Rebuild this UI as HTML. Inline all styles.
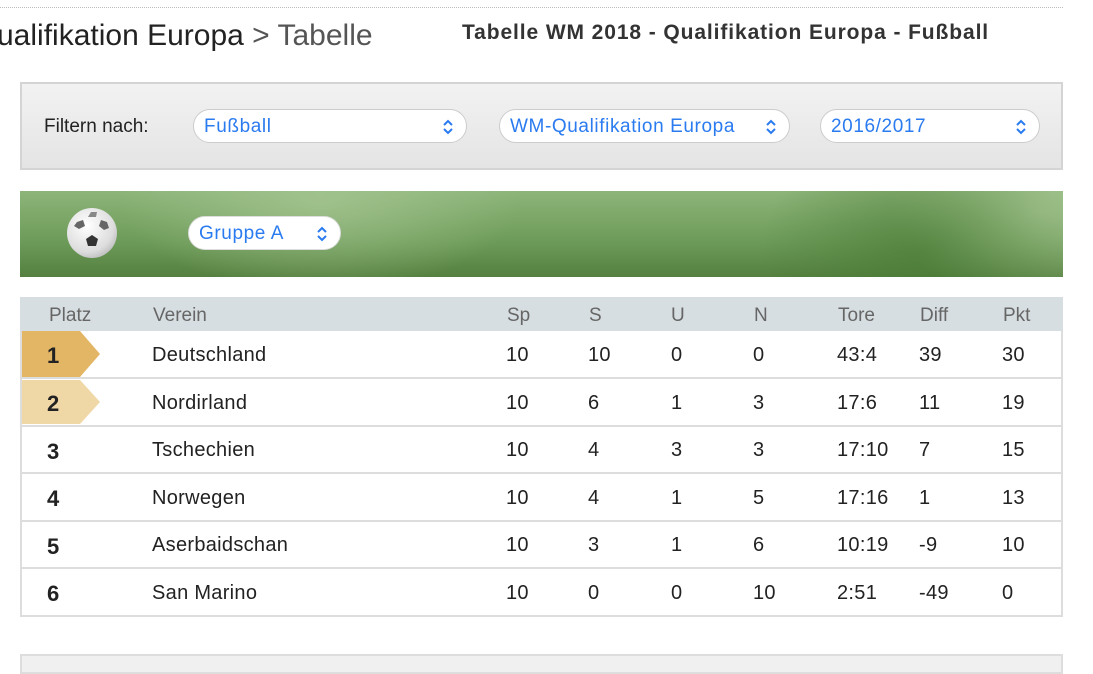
<!DOCTYPE html>
<html><head><meta charset="utf-8"><style>
*{margin:0;padding:0;box-sizing:border-box}
body{width:1093px;height:667px;background:#fff;font-family:"Liberation Sans",Arial,sans-serif;position:relative;overflow:hidden}
.a{position:absolute;white-space:nowrap}
.dot{position:absolute;left:0;top:7px;width:1063px;border-top:1px dotted #bbb}
.filter{position:absolute;left:20px;top:82px;width:1043px;height:88px;border:2px solid #d4d4d4;background:linear-gradient(#f2f2f2,#e4e4e4)}
.pill{position:absolute;height:34px;border:1.5px solid #ccc;border-radius:17px;background:#fff;color:#2a7bf0;font-size:19px;letter-spacing:0.6px;line-height:33px;padding-left:10px}
.pill svg{position:absolute;right:12px;top:9px}
.banner{position:absolute;left:20px;top:191px;width:1043px;height:86px;background:
radial-gradient(ellipse 200px 90px at 300px 10px,rgba(170,200,150,.7),transparent),
radial-gradient(ellipse 160px 120px at 900px 60px,rgba(70,120,50,.6),transparent),
radial-gradient(ellipse 150px 90px at 1020px 20px,rgba(170,200,150,.7),transparent),
linear-gradient(#8db57a,#6c9a58 60%,#55803f)}
.ball{position:absolute;left:67px;top:208px;width:50px;height:50px;border-radius:50%;background:radial-gradient(circle at 40% 35%,#fff,#ddd 60%,#999)}
.tbl{position:absolute;left:20px;top:297px;width:1043px;height:320px;border:2px solid #ddd;border-top:none}
.hd{position:absolute;left:20px;top:297px;width:1043px;height:34px;background:#d7dee1}
.h{position:absolute;top:305px;font-size:19px;color:#666}
.row{position:absolute;left:20px;width:1043px;border-bottom:2px solid #ddd}
.c{position:absolute;font-size:20px;letter-spacing:0.3px;color:#222;margin-top:1px}
.n{font-weight:bold;font-size:22px;letter-spacing:0}
</style></head><body>
<div class="dot"></div>
<div class="a" style="left:-3px;top:19px;font-size:30px;color:#222">ualifikation Europa <span style="color:#555">&gt; Tabelle</span></div>
<div class="a" style="left:462px;top:21px;font-size:21px;letter-spacing:0.9px;font-weight:bold;color:#333">Tabelle WM 2018 - Qualifikation Europa - Fußball</div>
<div class="filter"></div>
<div class="a" style="left:44px;top:116px;font-size:19px;color:#222">Filtern nach:</div>
<div class="pill" style="left:193px;top:109px;width:274px">Fußball<svg width="12" height="16" viewBox="0 0 12 16"><path d="M2 6l4-4 4 4M2 10l4 4 4-4" fill="none" stroke="#2a7bf0" stroke-width="2"/></svg></div>
<div class="pill" style="left:499px;top:109px;width:291px">WM-Qualifikation Europa<svg width="12" height="16" viewBox="0 0 12 16"><path d="M2 6l4-4 4 4M2 10l4 4 4-4" fill="none" stroke="#2a7bf0" stroke-width="2"/></svg></div>
<div class="pill" style="left:820px;top:109px;width:220px">2016/2017<svg width="12" height="16" viewBox="0 0 12 16"><path d="M2 6l4-4 4 4M2 10l4 4 4-4" fill="none" stroke="#2a7bf0" stroke-width="2"/></svg></div>
<div class="banner"></div>
<div class="ball"></div>
<svg class="a" style="left:67px;top:208px" width="50" height="50"><polygon points="25,27 31,31 29,38 21,38 19,31" fill="#333"/><polygon points="10,14 16,12 18,18 12,21 7,18" fill="#666"/><polygon points="34,12 40,14 42,20 37,22 32,18" fill="#666"/><polygon points="24,4 30,4 29,9 21,9" fill="#888"/></svg>
<div class="pill" style="left:188px;top:216px;width:153px;border-color:#ddd">Gruppe A<svg width="12" height="16" viewBox="0 0 12 16"><path d="M2 6l4-4 4 4M2 10l4 4 4-4" fill="none" stroke="#2a7bf0" stroke-width="2"/></svg></div>
<div class="tbl"></div>
<div class="hd"></div>
<div class="h" style="left:49px">Platz</div><div class="h" style="left:153px">Verein</div>
<div class="h" style="left:507px">Sp</div><div class="h" style="left:589px">S</div><div class="h" style="left:671px">U</div><div class="h" style="left:754px">N</div>
<div class="h" style="left:838px">Tore</div><div class="h" style="left:920px">Diff</div><div class="h" style="left:1003px">Pkt</div>
<div class="row" style="top:331px;height:48px"></div>
<div class="row" style="top:379px;height:48px"></div>
<div class="row" style="top:427px;height:47px"></div>
<div class="row" style="top:474px;height:48px"></div>
<div class="row" style="top:522px;height:47px"></div>
<div class="row" style="top:569px;height:48px"></div>
<svg class="a" style="left:22px;top:331px" width="80" height="95"><polygon points="0,0 58,0 78,23 58,46 0,46" fill="#e3b665"/><polygon points="0,49 58,49 78,71 58,93 0,93" fill="#f0d7a6"/></svg>
<div class="c n" style="left:47px;top:342px">1</div><div class="c n" style="left:47px;top:390px">2</div><div class="c n" style="left:47px;top:438px">3</div><div class="c n" style="left:47px;top:485px">4</div><div class="c n" style="left:47px;top:533px">5</div><div class="c n" style="left:47px;top:580px">6</div>
<div class="c" style="left:152px;top:343px">Deutschland</div><div class="c" style="left:506px;top:343px">10</div><div class="c" style="left:588px;top:343px">10</div><div class="c" style="left:671px;top:343px">0</div><div class="c" style="left:753px;top:343px">0</div><div class="c" style="left:837px;top:343px">43:4</div><div class="c" style="left:919px;top:343px">39</div><div class="c" style="left:1002px;top:343px">30</div>
<div class="c" style="left:152px;top:391px">Nordirland</div><div class="c" style="left:506px;top:391px">10</div><div class="c" style="left:588px;top:391px">6</div><div class="c" style="left:671px;top:391px">1</div><div class="c" style="left:753px;top:391px">3</div><div class="c" style="left:837px;top:391px">17:6</div><div class="c" style="left:919px;top:391px">11</div><div class="c" style="left:1002px;top:391px">19</div>
<div class="c" style="left:152px;top:438px">Tschechien</div><div class="c" style="left:506px;top:438px">10</div><div class="c" style="left:588px;top:438px">4</div><div class="c" style="left:671px;top:438px">3</div><div class="c" style="left:753px;top:438px">3</div><div class="c" style="left:837px;top:438px">17:10</div><div class="c" style="left:919px;top:438px">7</div><div class="c" style="left:1002px;top:438px">15</div>
<div class="c" style="left:152px;top:486px">Norwegen</div><div class="c" style="left:506px;top:486px">10</div><div class="c" style="left:588px;top:486px">4</div><div class="c" style="left:671px;top:486px">1</div><div class="c" style="left:753px;top:486px">5</div><div class="c" style="left:837px;top:486px">17:16</div><div class="c" style="left:919px;top:486px">1</div><div class="c" style="left:1002px;top:486px">13</div>
<div class="c" style="left:152px;top:533px">Aserbaidschan</div><div class="c" style="left:506px;top:533px">10</div><div class="c" style="left:588px;top:533px">3</div><div class="c" style="left:671px;top:533px">1</div><div class="c" style="left:753px;top:533px">6</div><div class="c" style="left:837px;top:533px">10:19</div><div class="c" style="left:919px;top:533px">-9</div><div class="c" style="left:1002px;top:533px">10</div>
<div class="c" style="left:152px;top:581px">San Marino</div><div class="c" style="left:506px;top:581px">10</div><div class="c" style="left:588px;top:581px">0</div><div class="c" style="left:671px;top:581px">0</div><div class="c" style="left:753px;top:581px">10</div><div class="c" style="left:837px;top:581px">2:51</div><div class="c" style="left:919px;top:581px">-49</div><div class="c" style="left:1002px;top:581px">0</div>
<div class="a" style="left:20px;top:654px;width:1043px;height:20px;border:2px solid #ddd;background:#f0f0f0"></div>
</body></html>
